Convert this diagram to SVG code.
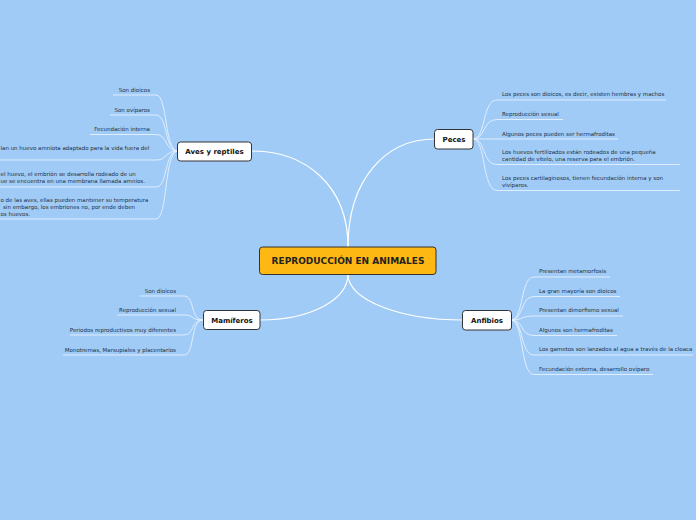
<svg xmlns="http://www.w3.org/2000/svg" width="696" height="520" viewBox="0 0 696 520">
<style>
.bg{fill:#a0cbf6}
.main{fill:none;stroke:#ffffff;stroke-width:1.2}
.leafc{fill:none;stroke:#e6f1fd;stroke-width:0.9}
.node{fill:#ffffff;stroke:#333333;stroke-width:1}
.center{fill:#fdb813;stroke:#333333;stroke-width:1}
.nt{font-family:"DejaVu Sans",Verdana,sans-serif;font-weight:bold;font-size:7px;fill:#111111;text-anchor:middle}
.ct{font-family:"DejaVu Sans",Verdana,sans-serif;font-weight:bold;font-size:9px;fill:#222222;text-anchor:middle}
.lt{font-family:"DejaVu Sans",Verdana,sans-serif;font-size:5.5px;fill:#22303e}
.r{text-anchor:end}
</style>
<rect class="bg" x="0" y="0" width="696" height="520"/>
<g id="connectors">
<path class="main" d="M348,247 C348,185 305,151 252,151"/>
<path class="main" d="M348,247 C348,180 385,139 435,139"/>
<path class="main" d="M348,274 C348,300 310,320 260,320"/>
<path class="main" d="M348,274 C348,300 400,320 463,320"/>
<path class="leafc" d="M113,95 H156 C168,95 164,151 178,151"/>
<path class="leafc" d="M110,115 H156 C168,115 164,151 178,151"/>
<path class="leafc" d="M90,134.5 H156 C168,134.5 164,151 178,151"/>
<path class="leafc" d="M0,160 H156 C168,160 164,151 178,151"/>
<path class="leafc" d="M0,187 H156 C168,187 164,151 178,151"/>
<path class="leafc" d="M0,219 H156 C168,219 164,151 178,151"/>
<path class="leafc" d="M473,139 C486,139 482,100 497,100 H666"/>
<path class="leafc" d="M473,139 C486,139 482,119.5 497,119.5 H563"/>
<path class="leafc" d="M473,139 C486,139 482,139 497,139 H618"/>
<path class="leafc" d="M473,139 C486,139 482,164.5 497,164.5 H680"/>
<path class="leafc" d="M473,139 C486,139 482,190.5 497,190.5 H680"/>
<path class="leafc" d="M511,320 C524,320 520,277 534,277 H610"/>
<path class="leafc" d="M511,320 C524,320 520,296.5 534,296.5 H620"/>
<path class="leafc" d="M511,320 C524,320 520,316 534,316 H623"/>
<path class="leafc" d="M511,320 C524,320 520,335.5 534,335.5 H617"/>
<path class="leafc" d="M511,320 C524,320 520,355 534,355 H693"/>
<path class="leafc" d="M511,320 C524,320 520,374.5 534,374.5 H653"/>
<path class="leafc" d="M140,296 H184 C195,296 190,320 203,320"/>
<path class="leafc" d="M117,315 H184 C195,315 190,320 203,320"/>
<path class="leafc" d="M70,335 H184 C195,335 190,320 203,320"/>
<path class="leafc" d="M63,355 H184 C195,355 190,320 203,320"/>
</g>
<g id="center">
<rect class="center" x="259.5" y="247" width="176.5" height="27.5" rx="3"/>
<text class="ct" x="348" y="264">REPRODUCCIÓN EN ANIMALES</text>
</g>
<g id="aves">
<rect class="node" x="177.5" y="142" width="74" height="19" rx="3"/>
<text class="nt" x="214.5" y="154">Aves y reptiles</text>
</g>
<g id="peces">
<rect class="node" x="434.5" y="129.5" width="38.5" height="19.5" rx="3"/>
<text class="nt" x="454" y="141.5">Peces</text>
</g>
<g id="mamiferos">
<rect class="node" x="203.5" y="310.5" width="56.5" height="19" rx="3"/>
<text class="nt" x="232" y="322.5">Mamíferos</text>
</g>
<g id="anfibios">
<rect class="node" x="462.5" y="310.5" width="49" height="19.5" rx="3"/>
<text class="nt" x="487" y="322.5">Anfibios</text>
</g>
<g id="aves-leaves">
<text class="lt r" x="150" y="92">Son dioicos</text>
<text class="lt r" x="150" y="111.5">Son ovíparos</text>
<text class="lt r" x="150" y="131">Fecundación interna</text>
<text class="lt" x="0.5" y="149.5">lan un huevo amniota adaptado para la vida fuera del</text>
<text class="lt" x="0.5" y="176">el huevo, el embrión se desarrolla rodeado de un</text>
<text class="lt" x="0.5" y="183">ue se encuentra en una membrana llamada amnios.</text>
<text class="lt" x="0.5" y="202">o de las aves, ellas pueden mantener su temperatura</text>
<text class="lt" x="3" y="209">sin embargo, los embriones no, por ende deben</text>
<text class="lt" x="0.5" y="216">os huevos.</text>
</g>
<g id="peces-leaves">
<text class="lt" x="502" y="96">Los peces son dioicos, es decir, existen hembras y machos</text>
<text class="lt" x="502" y="115.5">Reproducción sexual</text>
<text class="lt" x="502" y="135.5">Algunos peces pueden ser hermafroditas</text>
<text class="lt" x="502" y="153.5">Los huevos fertilizados están rodeados de una pequeña</text>
<text class="lt" x="502" y="160.5">cantidad de vitelo, una reserva para el embrión.</text>
<text class="lt" x="502" y="179.5">Los peces cartilaginosos, tienen fecundación interna y son</text>
<text class="lt" x="502" y="186.5">vivíparos.</text>
</g>
<g id="anfibios-leaves">
<text class="lt" x="539" y="273">Presentan metamorfosis</text>
<text class="lt" x="539" y="292.5">La gran mayoría son dioicos</text>
<text class="lt" x="539" y="312">Presentan dimorfismo sexual</text>
<text class="lt" x="539" y="331.5">Algunos son hermafroditas</text>
<text class="lt" x="539" y="351">Los gametos son lanzados al agua a través de la cloaca</text>
<text class="lt" x="539" y="370.5">Fecundación externa, desarrollo ovíparo</text>
</g>
<g id="mamiferos-leaves">
<text class="lt r" x="176" y="293">Son dioicos</text>
<text class="lt r" x="176" y="312">Reproducción sexual</text>
<text class="lt r" x="176" y="332">Periodos reproductivos muy diferentes</text>
<text class="lt r" x="176" y="351.5">Monotremas, Marsupiales y placentarios</text>
</g>
</svg>
